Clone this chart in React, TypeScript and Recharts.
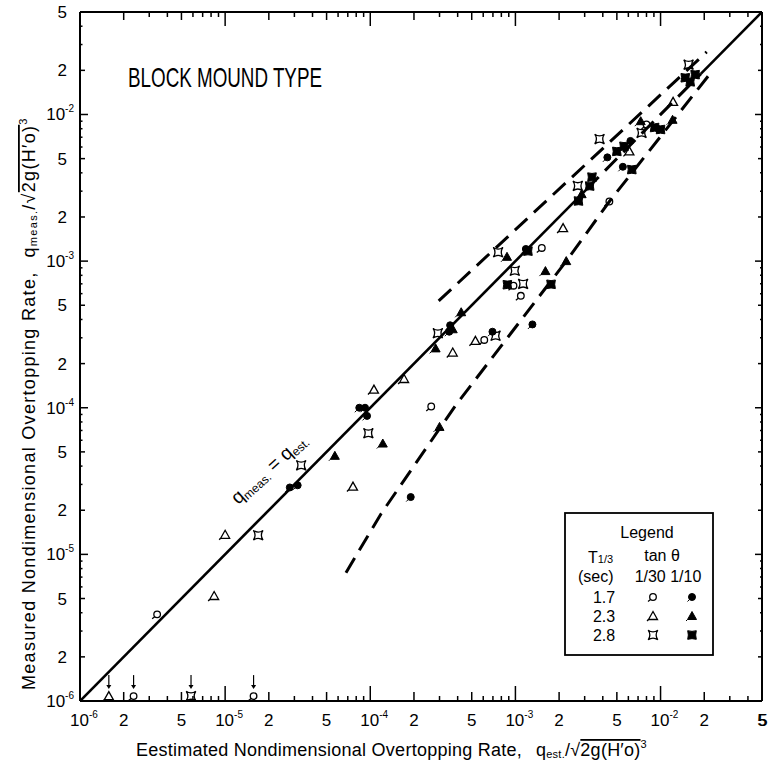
import React from 'react';
import { ScatterChart, Scatter, XAxis, YAxis } from 'recharts';

// log axis ticks
const decades = [-6, -5, -4, -3, -2];
const mantissas = [1, 2, 3, 4, 5, 6, 7, 8, 9];
const labelledMantissas = [1, 2, 5];
const axisMin = 1e-6;
const axisMax = 5e-2;

// measured data, [q est., q meas.]
const open17 = [
  [3.4e-6, 3.9e-6], [2.63e-4, 1.02e-4], [6.1e-4, 2.9e-4], [9.7e-4, 6.8e-4],
  [1.09e-3, 5.8e-4], [1.52e-3, 1.23e-3], [4.44e-3, 2.55e-3], [8.0e-3, 8.55e-3],
];
const filled17 = [
  [2.79e-5, 2.86e-5], [3.16e-5, 2.96e-5], [8.4e-5, 1.0e-4], [9.2e-5, 1.0e-4],
  [9.5e-5, 8.8e-5], [1.9e-4, 2.46e-5], [3.55e-4, 3.65e-4], [3.5e-4, 3.3e-4],
  [6.95e-4, 3.3e-4], [1.31e-3, 3.7e-4], [1.18e-3, 1.21e-3], [4.3e-3, 5.1e-3],
  [5.5e-3, 4.4e-3], [6.2e-3, 6.6e-3],
];
const open23 = [
  [8.4e-6, 5.2e-6], [1.0e-5, 1.36e-5], [7.6e-5, 2.9e-5], [1.06e-4, 1.33e-4],
  [1.71e-4, 1.57e-4], [3.7e-4, 2.38e-4], [5.3e-4, 2.86e-4], [2.13e-3, 1.68e-3],
  [6.1e-3, 5.6e-3], [1.22e-2, 1.22e-2],
];
const filled23 = [
  [5.7e-5, 4.7e-5], [1.22e-4, 5.7e-5], [3.0e-4, 7.4e-5], [2.82e-4, 2.54e-4],
  [3.7e-4, 3.43e-4], [4.23e-4, 4.48e-4], [8.75e-4, 1.07e-3], [1.61e-3, 8.55e-4],
  [2.24e-3, 1.0e-3], [2.86e-3, 2.86e-3], [7.3e-3, 9.0e-3], [1.21e-2, 9.2e-3],
];
const open28 = [
  [1.69e-5, 1.35e-5], [3.34e-5, 4.05e-5], [9.7e-5, 6.7e-5], [2.92e-4, 3.22e-4],
  [7.3e-4, 3.1e-4], [7.6e-4, 1.15e-3], [9.9e-4, 8.6e-4], [1.13e-3, 7.0e-4],
  [2.69e-3, 3.26e-3], [3.8e-3, 6.8e-3], [7.4e-3, 7.5e-3], [1.56e-2, 2.19e-2],
];
const filled28 = [
  [8.8e-4, 6.9e-4], [1.22e-3, 1.17e-3], [1.76e-3, 6.95e-4], [2.72e-3, 2.57e-3],
  [3.25e-3, 3.25e-3], [3.37e-3, 3.74e-3], [5.0e-3, 5.6e-3], [5.6e-3, 6.07e-3],
  [6.34e-3, 4.21e-3], [9.1e-3, 8.15e-3], [1.0e-2, 7.9e-3], [1.48e-2, 1.78e-2],
  [1.6e-2, 1.67e-2], [1.73e-2, 1.87e-2],
];

// runs with no overtopping measured (plotted on the axis with an arrow)
const belowEst = [1.58e-6, 2.34e-6, 5.82e-6, 1.57e-5];
const belowKind = ['o23', 'o17', 'o28', 'o17'];
const belowLevel = 1.08e-6;

// lines
const diagonalLow = [[1e-6, 1e-6], [3.1e-3, 3.1e-3]];
const diagonalMid = [[3.1e-3, 3.1e-3], [1.9e-2, 1.9e-2]];
const diagonalHigh = [[1.9e-2, 1.9e-2], [5e-2, 5e-2]];
const upperBound = [[2.96e-4, 5.35e-4], [2.08e-2, 2.67e-2]];
const lowerBound = [
  [6.8e-5, 7.5e-6], [1.19e-4, 1.9e-5], [3.85e-4, 1.03e-4],
  [2.24e-3, 1.0e-3], [4.44e-3, 2.55e-3], [2.13e-2, 1.83e-2],
];

const FONT = '"Liberation Sans", Arial, sans-serif';
const ticks = decades
  .flatMap((d) => mantissas.map((m) => m * Math.pow(10, d)))
  .filter((v) => v <= axisMax * 1.0001);

const toPts = (arr: number[][]) => arr.map(([x, y]) => ({ x, y }));

const split = (v: number) => {
  const e = Math.floor(Math.log10(v) + 1e-9);
  const m = Math.round(v / Math.pow(10, e));
  return { e, m };
};

// markers
const openCircle = (cx: number, cy: number) => (
  <g fill="none" stroke="#000" strokeWidth={1.3}>
    <circle cx={cx} cy={cy} r={3.3} />
    <line x1={cx - 2.5} y1={cy + 2.5} x2={cx - 5} y2={cy + 4.5} />
  </g>
);
const filledCircle = (cx: number, cy: number) => (
  <g fill="#000" stroke="#000" strokeWidth={1}>
    <circle cx={cx} cy={cy} r={3.5} />
    <line x1={cx - 2.5} y1={cy + 2.5} x2={cx - 4.5} y2={cy + 4.5} />
  </g>
);
const triPath = (cx: number, cy: number) =>
  `M${cx},${cy - 4.5} L${cx + 4.5},${cy + 3.5} L${cx - 4.5},${cy + 3.5} Z`;
const openTriangle = (cx: number, cy: number) => (
  <g fill="none" stroke="#000" strokeWidth={1.3}>
    <path d={triPath(cx, cy)} />
    <line x1={cx - 4.5} y1={cy + 3.5} x2={cx - 6} y2={cy + 5} />
  </g>
);
const filledTriangle = (cx: number, cy: number) => (
  <g fill="#000" stroke="#000" strokeWidth={1}>
    <path d={triPath(cx, cy)} />
    <line x1={cx - 4.5} y1={cy + 3.5} x2={cx - 6} y2={cy + 5} />
  </g>
);
const starPath = (cx: number, cy: number, r: number, k: number) =>
  `M${cx - r},${cy - r} Q${cx},${cy - k} ${cx + r},${cy - r} Q${cx + k},${cy} ${cx + r},${cy + r} ` +
  `Q${cx},${cy + k} ${cx - r},${cy + r} Q${cx - k},${cy} ${cx - r},${cy - r} Z`;
const openStar = (cx: number, cy: number) => (
  <path d={starPath(cx, cy, 4.8, 1.5)} fill="none" stroke="#000" strokeWidth={1.3} />
);
const filledSquare = (cx: number, cy: number) => (
  <path d={starPath(cx, cy, 4.3, 3)} fill="#000" stroke="#000" strokeWidth={1} />
);

const markers: Record<string, (cx: number, cy: number) => React.ReactElement> = {
  o17: openCircle,
  f17: filledCircle,
  o23: openTriangle,
  f23: filledTriangle,
  o28: openStar,
  f28: filledSquare,
};

const noMark = () => <g />;

// ticks: all drawn inward from the frame
const BottomTick = (props: any) => {
  const { x, y, payload } = props;
  const { e, m } = split(payload.value);
  const len = m === 1 ? 15 : m === 2 || m === 5 ? 9 : 5;
  return (
    <g>
      <line x1={x} x2={x} y1={y} y2={y - len} stroke="#000" strokeWidth={1.5} />
      {m === 1 ? (
        <text x={x - 10} y={y + 25} fontSize={17} fontFamily={FONT} fill="#000">
          10<tspan dy={-8} fontSize={10}>{e}</tspan>
        </text>
      ) : labelledMantissas.includes(m) ? (
        <text x={x} y={y + 25} fontSize={17} fontFamily={FONT} textAnchor="middle" fill="#000">
          {m}
        </text>
      ) : null}
    </g>
  );
};

const TopTick = (props: any) => {
  const { x, y, payload } = props;
  const { m } = split(payload.value);
  const len = m === 1 ? 14 : m === 2 || m === 5 ? 8 : 5;
  return <line x1={x} x2={x} y1={y} y2={y + len} stroke="#000" strokeWidth={1.5} />;
};

const LeftTick = (props: any) => {
  const { x, y, payload } = props;
  const { e, m } = split(payload.value);
  const len = m === 1 ? 8 : m === 2 || m === 5 ? 5 : 2.5;
  return (
    <g>
      <line x1={x} x2={x + len} y1={y} y2={y} stroke="#000" strokeWidth={1.5} />
      {m === 1 ? (
        <text x={x - 6} y={y + 6} fontSize={17} fontFamily={FONT} textAnchor="end" fill="#000">
          10<tspan dy={-8} fontSize={10}>{e}</tspan>
        </text>
      ) : labelledMantissas.includes(m) ? (
        <text x={x - 13} y={y + 6} fontSize={17} fontFamily={FONT} textAnchor="end" fill="#000">
          {m}
        </text>
      ) : null}
    </g>
  );
};

// the right-hand frame also carries the bottom-right "5" of the x scale,
// which the bottom axis drops at its very end
const RightTick = (props: any) => {
  const { x, y, payload } = props;
  const { m, e } = split(payload.value);
  const len = m === 1 ? 7 : m === 2 || m === 5 ? 4 : 2;
  const isLowest = m === 1 && e === decades[0];
  return (
    <g>
      <line x1={x} x2={x - len} y1={y} y2={y} stroke="#000" strokeWidth={1.5} />
      {isLowest ? (
        <text x={x + 1} y={y + 25} fontSize={17} fontFamily={FONT} textAnchor="middle" fill="#000">
          {axisMax / Math.pow(10, decades[decades.length - 1])}
        </text>
      ) : null}
    </g>
  );
};

const BelowShape = (props: any) => {
  const { cx, cy, payload } = props;
  const draw = markers[payload.kind];
  return (
    <g>
      {draw(cx, cy)}
      <line x1={cx} x2={cx} y1={cy - 21} y2={cy - 9} stroke="#000" strokeWidth={1.2} />
      <path d={`M${cx - 2.5},${cy - 11} L${cx + 2.5},${cy - 11} L${cx},${cy - 7} Z`} fill="#000" />
    </g>
  );
};

const frame = { stroke: '#000', strokeWidth: 2 };
const logAxis = {
  type: 'number' as const,
  scale: 'log' as const,
  domain: [axisMin, axisMax],
  allowDataOverflow: true,
  ticks,
  interval: 0 as const,
  tickLine: false,
  tickSize: 0,
  tickMargin: 0,
  axisLine: frame,
};

const legendRows = [
  { period: '1.7', open: 'o17', filled: 'f17' },
  { period: '2.3', open: 'o23', filled: 'f23' },
  { period: '2.8', open: 'o28', filled: 'f28' },
];

export default function App() {
  const belowData = belowEst.map((x, i) => ({ x, y: belowLevel, kind: belowKind[i] }));
  const solid = { stroke: '#000', strokeWidth: 2.6 };
  const dashed = { stroke: '#000', strokeWidth: 3, strokeDasharray: '17 9' };

  return (
    <div style={{ position: 'absolute', left: 0, top: 0, width: 774, height: 763, background: '#fff' }}>
      <ScatterChart width={774} height={763} margin={{ top: 11, right: 11, bottom: 61, left: 79 }}>
        <XAxis dataKey="x" xAxisId="b" orientation="bottom" height={1} tick={BottomTick} {...logAxis} />
        <XAxis dataKey="x" xAxisId="t" orientation="top" height={1} tick={TopTick} {...logAxis} />
        <YAxis dataKey="y" yAxisId="l" orientation="left" width={1} tick={LeftTick} {...logAxis} />
        <YAxis dataKey="y" yAxisId="r" orientation="right" width={1} tick={RightTick} {...logAxis} />

        <Scatter xAxisId="b" yAxisId="l" data={toPts(diagonalLow)} line={solid} shape={noMark} isAnimationActive={false} />
        <Scatter xAxisId="b" yAxisId="l" data={toPts(diagonalMid)} line={dashed} shape={noMark} isAnimationActive={false} />
        <Scatter xAxisId="b" yAxisId="l" data={toPts(diagonalHigh)} line={solid} shape={noMark} isAnimationActive={false} />
        <Scatter xAxisId="b" yAxisId="l" data={toPts(upperBound)} line={dashed} shape={noMark} isAnimationActive={false} />
        <Scatter xAxisId="b" yAxisId="l" data={toPts(lowerBound)} line={dashed} shape={noMark} isAnimationActive={false} />

        <Scatter xAxisId="b" yAxisId="l" data={toPts(open17)} shape={(p: any) => openCircle(p.cx, p.cy)} isAnimationActive={false} />
        <Scatter xAxisId="b" yAxisId="l" data={toPts(filled17)} shape={(p: any) => filledCircle(p.cx, p.cy)} isAnimationActive={false} />
        <Scatter xAxisId="b" yAxisId="l" data={toPts(open23)} shape={(p: any) => openTriangle(p.cx, p.cy)} isAnimationActive={false} />
        <Scatter xAxisId="b" yAxisId="l" data={toPts(filled23)} shape={(p: any) => filledTriangle(p.cx, p.cy)} isAnimationActive={false} />
        <Scatter xAxisId="b" yAxisId="l" data={toPts(open28)} shape={(p: any) => openStar(p.cx, p.cy)} isAnimationActive={false} />
        <Scatter xAxisId="b" yAxisId="l" data={toPts(filled28)} shape={(p: any) => filledSquare(p.cx, p.cy)} isAnimationActive={false} />
        <Scatter xAxisId="b" yAxisId="l" data={belowData} shape={BelowShape} isAnimationActive={false} />
      </ScatterChart>

      <svg width={774} height={763} style={{ position: 'absolute', left: 0, top: 0, pointerEvents: 'none' }} fontFamily={FONT}>
        <text x={128} y={87} fontSize={28} textLength={194} lengthAdjust="spacingAndGlyphs">BLOCK MOUND TYPE</text>

        <text transform="translate(238,505) rotate(-42)" fontSize={19}>
          q<tspan fontSize={12} dy={3}>meas.</tspan>
          <tspan dy={-3}> = q</tspan>
          <tspan fontSize={12} dy={3}>est.</tspan>
        </text>

        <text x={136} y={756} fontSize={18} letterSpacing={0.25}>
          Eestimated Nondimensional Overtopping Rate,
          <tspan dx={14}>q</tspan>
          <tspan fontSize={11} dy={2}>est.</tspan>
          <tspan dy={-2}>/√</tspan>
          <tspan textDecoration="overline">2g(H′o)</tspan>
          <tspan fontSize={11} dy={-8}>3</tspan>
        </text>

        <text transform="translate(35,690) rotate(-90)" fontSize={18} letterSpacing={1.3}>
          Measured Nondimensional Overtopping Rate,
          <tspan dx={14}>q</tspan>
          <tspan fontSize={11} dy={2}>meas.</tspan>
          <tspan dy={-2}>/√</tspan>
          <tspan textDecoration="overline">2g(H′o)</tspan>
          <tspan fontSize={11} dy={-8}>3</tspan>
        </text>

        <rect x={565} y={513} width={148} height={142} fill="#fff" stroke="#000" strokeWidth={1.8} />
        <text x={647} y={538} fontSize={16} textAnchor="middle">Legend</text>
        <text x={588} y={563} fontSize={16}>T<tspan fontSize={11}>1/3</tspan></text>
        <text x={662} y={561} fontSize={16} textAnchor="middle">tan θ</text>
        <text x={578} y={582} fontSize={16}>(sec)</text>
        <text x={668} y={582} fontSize={16} textAnchor="middle">1/30 1/10</text>
        {legendRows.map((r, i) => (
          <g key={r.period}>
            <text x={604} y={603 + i * 19} fontSize={16} textAnchor="middle">{r.period}</text>
            {markers[r.open](653, 597 + i * 19)}
            {markers[r.filled](692, 597 + i * 19)}
          </g>
        ))}
      </svg>
    </div>
  );
}
